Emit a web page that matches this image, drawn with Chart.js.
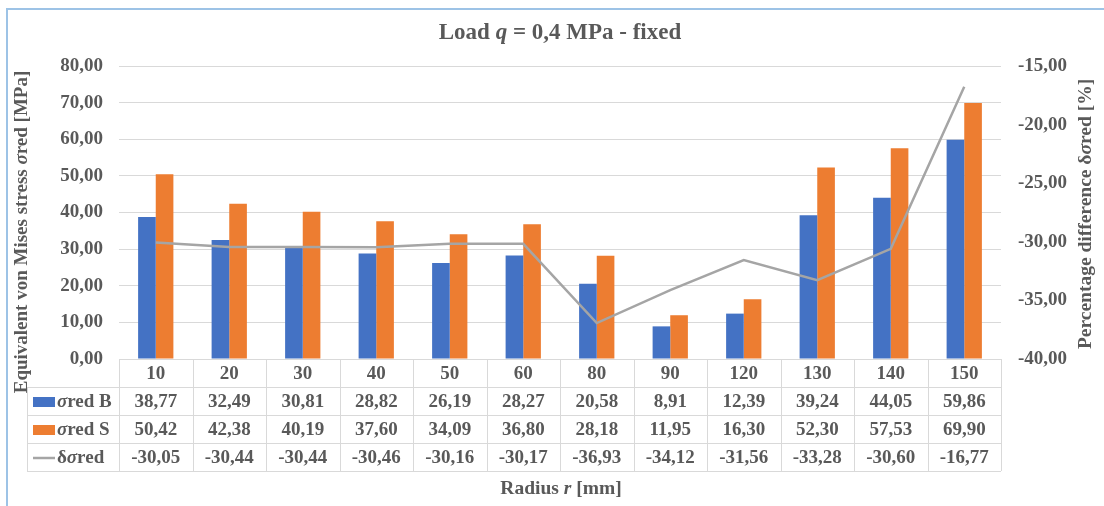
<!DOCTYPE html>
<html>
<head>
<meta charset="utf-8">
<title>Load q = 0,4 MPa - fixed</title>
<script src="https://cdn.jsdelivr.net/npm/chart.js@4.4.1/dist/chart.umd.min.js"></script>
<style>
  html, body { margin: 0; padding: 0; background: #ffffff; }
  #wrap { width: 1104px; height: 506px; position: relative; }
  canvas { display: block; }
</style>
</head>
<body>
<div id="wrap"><canvas id="chart" width="1104" height="506"></canvas></div>
<script>
// Radius r [mm]
const radii = ['10', '20', '30', '40', '50', '60', '80', '90', '120', '130', '140', '150'];
// Equivalent von Mises stress σred [MPa]
const sigmaRedB = [38.77, 32.49, 30.81, 28.82, 26.19, 28.27, 20.58, 8.91, 12.39, 39.24, 44.05, 59.86];
const sigmaRedS = [50.42, 42.38, 40.19, 37.60, 34.09, 36.80, 28.18, 11.95, 16.30, 52.30, 57.53, 69.90];
// Percentage difference δσred [%]
const deltaSigmaRed = [-30.05, -30.44, -30.44, -30.46, -30.16, -30.17, -36.93, -34.12, -31.56, -33.28, -30.60, -16.77];
// Axis ranges
const stressAxis = { min: 0, max: 80, step: 10 };
const diffAxis = { min: -40, max: -15, step: 5 };

const SERIF = '"Liberation Serif", "Times New Roman", serif';
const TEXT = '#595959';
const BLUE = '#4472C4';
const ORANGE = '#ED7D31';
const GREY_LINE = '#A5A5A5';
const GRID = '#D9D9D9';

const fmt = v => v.toFixed(2).replace('.', ',');
const fontOf = (size, italic) => (italic ? 'italic ' : '') + 'bold ' + size + 'px ' + SERIF;

// Text made of runs, some of them italic
function runsWidth(ctx, runs, size) {
  let w = 0;
  for (const r of runs) { ctx.font = fontOf(size, r.i); w += ctx.measureText(r.t).width; }
  return w;
}
function drawRuns(ctx, runs, size, x, y, align) {
  const w = runsWidth(ctx, runs, size);
  let cx = align === 'center' ? x - w / 2 : (align === 'right' ? x - w : x);
  ctx.textAlign = 'left';
  ctx.textBaseline = 'middle';
  for (const r of runs) {
    ctx.font = fontOf(size, r.i);
    ctx.fillText(r.t, cx, y);
    cx += ctx.measureText(r.t).width;
  }
}
function drawRotatedRuns(ctx, runs, size, x, y) {
  ctx.save();
  ctx.translate(x, y);
  ctx.rotate(-Math.PI / 2);
  drawRuns(ctx, runs, size, 0, 0, 'center');
  ctx.restore();
}

const titleRuns = [{ t: 'Load ' }, { t: 'q', i: true }, { t: ' = 0,4 MPa - fixed' }];
const leftTitleRuns = [{ t: 'Equivalent von Mises stress ' }, { t: 'σ', i: true }, { t: 'red [MPa]' }];
const rightTitleRuns = [{ t: 'Percentage difference δ' }, { t: 'σ', i: true }, { t: 'red [%]' }];
const xTitleRuns = [{ t: 'Radius ' }, { t: 'r', i: true }, { t: ' [mm]' }];

const tableRows = [
  { runs: [{ t: 'σ', i: true }, { t: 'red B' }], key: 'box', color: BLUE, values: sigmaRedB },
  { runs: [{ t: 'σ', i: true }, { t: 'red S' }], key: 'box', color: ORANGE, values: sigmaRedS },
  { runs: [{ t: 'δ' }, { t: 'σ', i: true }, { t: 'red' }], key: 'line', color: GREY_LINE, values: deltaSigmaRed }
];

// Frame, titles and the data table under the plot area
const decorations = {
  id: 'decorations',
  afterDraw(chart) {
    const ctx = chart.ctx;
    const area = chart.chartArea;
    const xs = chart.scales.x;
    ctx.save();

    // outer frame
    ctx.strokeStyle = '#9DC3E6';
    ctx.lineWidth = 2;
    ctx.beginPath();
    ctx.moveTo(7, 506); ctx.lineTo(7, 9); ctx.lineTo(1104, 9);
    ctx.stroke();

    ctx.fillStyle = TEXT;
    drawRuns(ctx, titleRuns, 23, 560, 33, 'center');
    drawRotatedRuns(ctx, leftTitleRuns, 19, 22, 232);
    drawRotatedRuns(ctx, rightTitleRuns, 19.5, 1086, 214);
    drawRuns(ctx, xTitleRuns, 19.5, 561, 489, 'center');

    // data table
    const rowH = 28;
    const top = area.bottom;
    const keyLeft = 27;
    const colW = (area.right - area.left) / radii.length;
    ctx.strokeStyle = GRID;
    ctx.lineWidth = 1;
    ctx.beginPath();
    for (let r = 1; r <= 4; r++) {
      const y = Math.round(top + r * rowH) + 0.5;
      ctx.moveTo(keyLeft, y); ctx.lineTo(area.right, y);
    }
    for (let i = 0; i <= radii.length; i++) {
      const x = Math.round(area.left + i * colW) + 0.5;
      ctx.moveTo(x, top); ctx.lineTo(x, top + 4 * rowH);
    }
    ctx.moveTo(keyLeft + 0.5, top + rowH); ctx.lineTo(keyLeft + 0.5, top + 4 * rowH);
    ctx.stroke();

    ctx.fillStyle = TEXT;
    ctx.font = fontOf(19);
    ctx.textAlign = 'center';
    ctx.textBaseline = 'middle';
    radii.forEach((c, i) => ctx.fillText(c, xs.getPixelForValue(i), top + rowH / 2 + 1));

    tableRows.forEach((row, r) => {
      const cy = top + (r + 1.5) * rowH + 1;
      if (row.key === 'box') {
        ctx.fillStyle = row.color;
        ctx.fillRect(33, cy - 5, 22, 10);
      } else {
        ctx.strokeStyle = row.color;
        ctx.lineWidth = 2.5;
        ctx.beginPath(); ctx.moveTo(33, cy); ctx.lineTo(55, cy); ctx.stroke();
      }
      ctx.fillStyle = TEXT;
      drawRuns(ctx, row.runs, 19, 57, cy, 'left');
      ctx.font = fontOf(19);
      ctx.textAlign = 'center';
      row.values.forEach((v, i) => ctx.fillText(fmt(v), xs.getPixelForValue(i), cy));
    });
    ctx.restore();
  }
};

const tickFont = { family: SERIF, size: 19, weight: 'bold' };

new Chart(document.getElementById('chart'), {
  type: 'bar',
  data: {
    labels: radii,
    datasets: [
      { label: 'σred B', data: sigmaRedB, backgroundColor: BLUE, yAxisID: 'y', order: 1,
        categoryPercentage: 0.48, barPercentage: 1.0 },
      { label: 'σred S', data: sigmaRedS, backgroundColor: ORANGE, yAxisID: 'y', order: 1,
        categoryPercentage: 0.48, barPercentage: 1.0 },
      { label: 'δσred', type: 'line', data: deltaSigmaRed, yAxisID: 'y2', order: 0,
        borderColor: GREY_LINE, borderWidth: 2.5, pointRadius: 0, tension: 0, fill: false }
    ]
  },
  options: {
    responsive: false,
    animation: false,
    devicePixelRatio: 1,
    layout: { padding: { top: 66, bottom: 147, left: 0, right: 0 } },
    plugins: {
      legend: { display: false },
      title: { display: false },
      tooltip: { enabled: false }
    },
    scales: {
      x: {
        offset: true,
        grid: { display: false },
        border: { display: false },
        ticks: { display: false },
        afterFit(scale) { scale.height = 0; }
      },
      y: {
        position: 'left',
        min: stressAxis.min, max: stressAxis.max,
        ticks: { stepSize: stressAxis.step, callback: v => fmt(v), font: tickFont, color: TEXT, padding: 16 },
        grid: { color: GRID, lineWidth: 1, drawTicks: false },
        border: { display: false },
        afterFit(scale) { scale.width = 119; }
      },
      y2: {
        position: 'right',
        min: diffAxis.min, max: diffAxis.max,
        ticks: { stepSize: diffAxis.step, callback: v => fmt(v), font: tickFont, color: TEXT, padding: 17 },
        grid: { drawOnChartArea: false, drawTicks: false },
        border: { display: false },
        afterFit(scale) { scale.width = 103; }
      }
    }
  },
  plugins: [decorations]
});
</script>
</body>
</html>
